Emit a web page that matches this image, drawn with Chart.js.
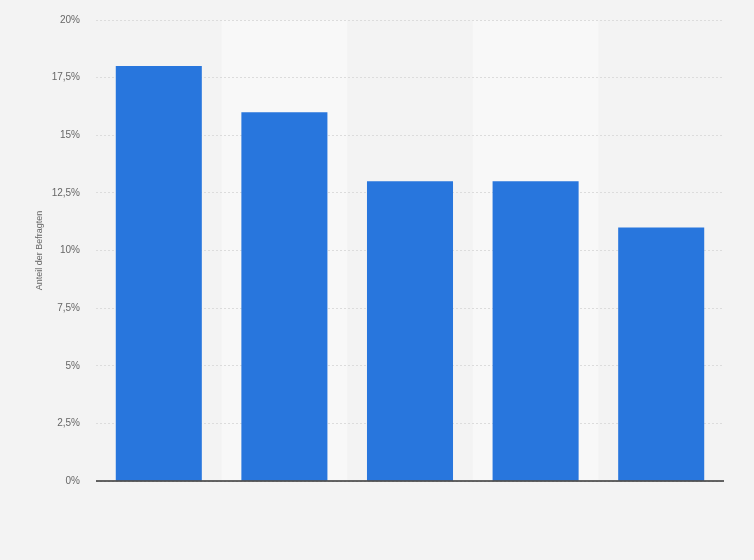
<!DOCTYPE html>
<html><head><meta charset="utf-8">
<script src="https://cdn.jsdelivr.net/npm/chart.js@4/dist/chart.umd.min.js"></script>
<style>html,body{margin:0;padding:0;background:#f3f3f3;}#w{width:754px;height:560px;}</style>
</head><body><div id="w"><canvas id="c"></canvas></div>
<script>
const categories = ["", "", "", "", ""];
const shares = [18, 16, 13, 13, 11];
const yTicks = [0, 2.5, 5, 7.5, 10, 12.5, 15, 17.5, 20];
const yTitle = "Anteil der Befragten";

const bands = {
  id: 'bands',
  beforeDraw(chart) {
    const {ctx, chartArea, scales: {x}} = chart;
    const w = (x.right - x.left) / categories.length;
    ctx.save();
    ctx.fillStyle = '#f8f8f8';
    categories.forEach((c, i) => {
      if (i % 2 === 1) {
        const cx = x.getPixelForValue(i);
        ctx.fillRect(cx - w / 2, chartArea.top, w, chartArea.bottom - chartArea.top);
      }
    });
    ctx.restore();
  },
  afterDatasetsDraw(chart) {
    const {ctx, chartArea} = chart;
    ctx.save();
    ctx.strokeStyle = '#333';
    ctx.lineWidth = 1.5;
    ctx.beginPath();
    ctx.moveTo(chartArea.left, chartArea.bottom);
    ctx.lineTo(chartArea.right, chartArea.bottom);
    ctx.stroke();
    ctx.restore();
  }
};

new Chart(document.getElementById('c'), {
  type: 'bar',
  data: { labels: categories, datasets: [{ data: shares, backgroundColor: '#2876dd', barPercentage: 0.685, categoryPercentage: 1 }] },
  options: {
    responsive: true, maintainAspectRatio: false, animation: false,
    layout: { padding: { top: 20, right: 30, bottom: 79, left: 0 } },
    plugins: { legend: { display: false }, tooltip: { enabled: false } },
    scales: {
      x: { grid: { display: false, drawTicks: false }, border: { display: false }, ticks: { display: false } },
      y: {
        min: 0, max: 20,
        afterBuildTicks(s) { s.ticks = yTicks.map(v => ({ value: v })); },
        afterFit(s) { s.width = 96; s.paddingTop = 0; s.paddingBottom = 0; },
        grid: { color: '#dcdcdc', drawTicks: false, lineWidth: 1 },
        border: { display: false, dash: [2, 2] },
        ticks: { padding: 16, color: '#666', font: { family: 'Arial, Liberation Sans, sans-serif', size: 10 },
          callback: v => String(v).replace('.', ',') + '%' },
        title: { display: true, text: yTitle, color: '#666', padding: { top: 34, bottom: 0 }, font: { family: 'Arial, Liberation Sans, sans-serif', size: 9 } }
      }
    }
  },
  plugins: [bands]
});
</script></body></html>
